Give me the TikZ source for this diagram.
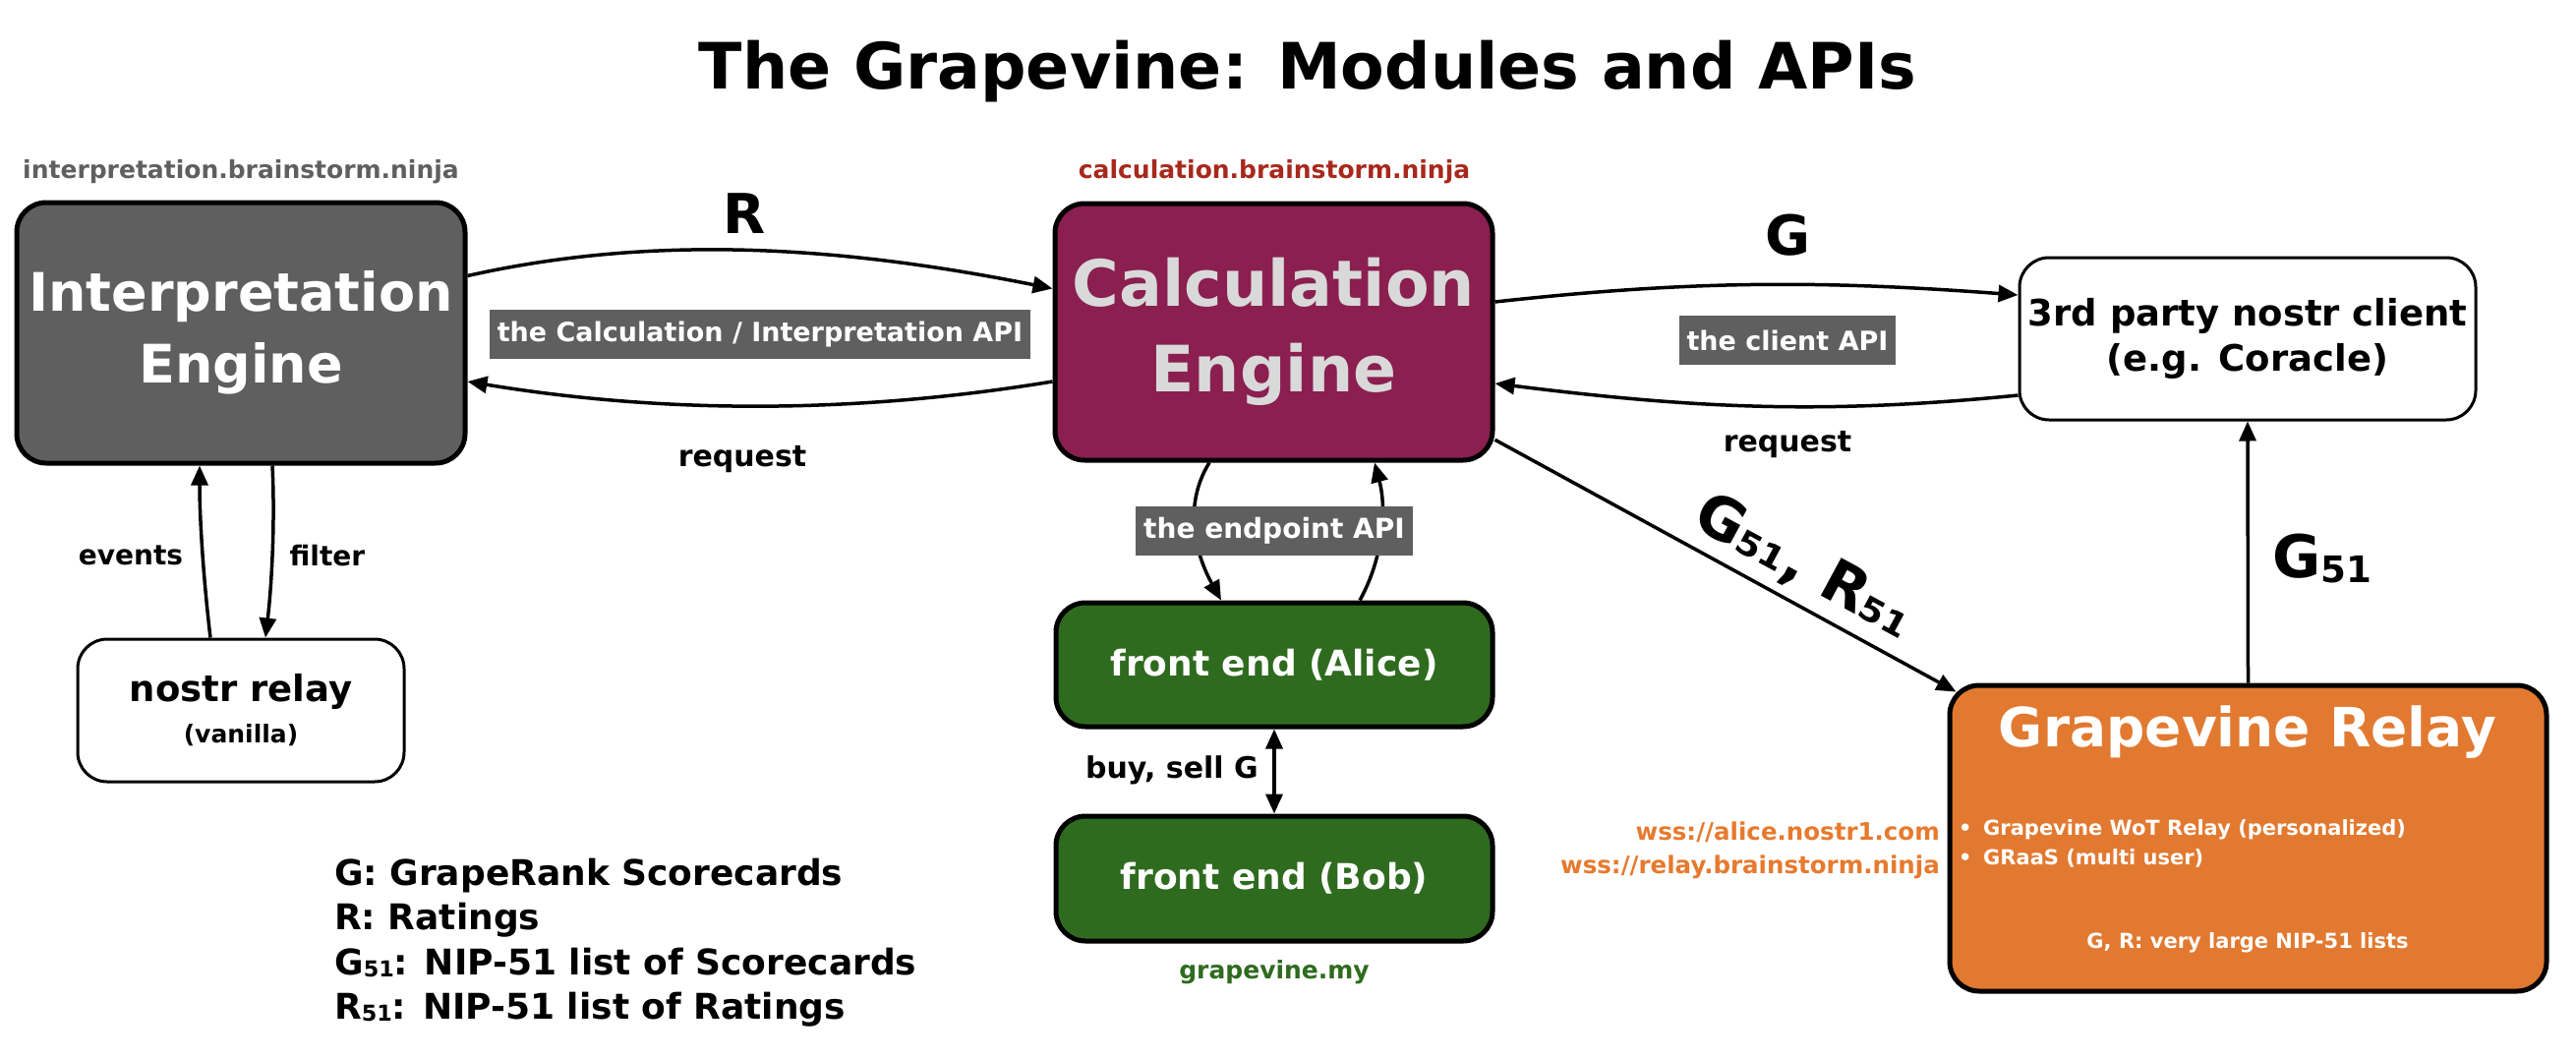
\documentclass[tikz,border=0pt]{standalone}
\usepackage{fontspec}
\setmainfont{DejaVu Sans}
\usetikzlibrary{arrows.meta,calc}
\definecolor{gry}{HTML}{5F5F5F}
\definecolor{plum}{HTML}{8A1F50}
\definecolor{lgry}{HTML}{D9D9D9}
\definecolor{grn}{HTML}{2F6B1F}
\definecolor{org}{HTML}{E27930}
\definecolor{wssorg}{HTML}{E67A2E}
\definecolor{redurl}{HTML}{A8281C}
\newcommand{\lowsub}[1]{\raisebox{-0.08em}{\scalebox{0.62}{#1}}}
\newcommand{\fsz}[2]{\fontsize{#1}{#2}\selectfont}
\tikzset{
  bigbox/.style={draw=black, line width=5pt, rounded corners=30pt, inner sep=0pt, align=center},
  wbox/.style={draw=black, fill=white, line width=3pt, rounded corners=30pt, inner sep=0pt, align=center},
  apibox/.style={fill=gry, text=white, inner xsep=8pt, inner ysep=0pt, minimum height=50pt, font=\bfseries\fsz{27}{32}},
  arr/.style={line width=3.5pt, -{Triangle[length=20pt,width=17pt]}},
  dblarr/.style={line width=3.5pt, {Triangle[length=20pt,width=17pt]}-{Triangle[length=20pt,width=17pt]}},
  lbl/.style={font=\bfseries\fsz{30}{36}},
  small/.style={font=\bfseries\fsz{28}{34}},
  url/.style={font=\bfseries\fsz{25}{30}},
  big/.style={font=\bfseries\fsz{56}{62}},
  huge/.style={font=\bfseries\fsz{60}{66}},
  leg/.style={anchor=base west, inner sep=0pt, font=\bfseries\fsz{36}{44}},
  inbox/.style={text=white, inner sep=0pt, font=\bfseries\fsz{21}{25}},
}
\begin{document}
\begin{tikzpicture}[x=1pt,y=-1pt]
\useasboundingbox (0,0) rectangle (2620,1076);

% title
\node[font=\bfseries\fsz{65}{78}] (title) at (1330,73) {The Grapevine: Modules and APIs};

% main boxes
\node[bigbox, fill=gry, text=white, minimum width=456pt, minimum height=265pt,
      font=\bfseries\fsz{54}{73}] (interp) at (245,338.5) {Interpretation\\Engine};
\node[bigbox, fill=plum, text=lgry, minimum width=445pt, minimum height=261pt,
      font=\bfseries\fsz{65}{87}] (calc) at (1295.5,337.5) {Calculation\\Engine};
\node[wbox, minimum width=464pt, minimum height=165pt,
      font=\bfseries\fsz{37}{46}] (third) at (2286,344.5) {3rd party nostr client\\(e.g. Coracle)};
\node[wbox, minimum width=332pt, minimum height=145pt, font=\bfseries\fsz{25}{42}] (nostr) at (245,722.5)
      {{\fsz{37}{42}nostr relay}\\(vanilla)};
\node[bigbox, fill=grn, text=white, minimum width=444pt, minimum height=126pt,
      font=\bfseries\fsz{36}{44}] (alice) at (1296,676) {front end (Alice)};
\node[bigbox, fill=grn, text=white, minimum width=444pt, minimum height=127pt,
      font=\bfseries\fsz{36}{44}] (bob) at (1296,893.5) {front end (Bob)};
\node[bigbox, fill=org, minimum width=607pt, minimum height=311pt] (gvr) at (2286.5,852.5) {};

% URLs
\node[url, text=gry] (iurl) at (245,175) {interpretation.brainstorm.ninja};
\node[url, text=redurl] (curl) at (1296,175) {calculation.brainstorm.ninja};
\node[url, text=grn] (gurl) at (1296,989) {grapevine.my};
\node[anchor=east, inner sep=0pt, text=wssorg, font=\bfseries\fsz{24.5}{30}] (w1) at (1973,846) {wss://alice.nostr1.com};
\node[anchor=east, inner sep=0pt, text=wssorg, font=\bfseries\fsz{24.5}{30}] (w2) at (1973,882) {wss://relay.brainstorm.ninja};

% grapevine relay content
\node[text=white, font=\bfseries\fsz{55}{60}] (gvrt) at (2286,745) {Grapevine Relay};
\node[inbox, anchor=west] (b1) at (1992,844) {•\hspace{0.55em}Grapevine WoT Relay (personalized)};
\node[inbox, anchor=west] (b2) at (1992,873) {•\hspace{0.55em}GRaaS (multi user)};
\node[inbox] (b3) at (2286,959) {G, R: very large NIP-51 lists};

% connectors
\draw[arr] ([yshift=58pt]interp.east) .. controls +(200,-45) and +(-200,-40) .. ([yshift=44pt]calc.west);
\draw[arr] ([yshift=-50.5pt]calc.west) .. controls +(-200,33) and +(200,33) .. ([yshift=-49.5pt]interp.east);
\draw[arr] ([yshift=30.5pt]calc.east) .. controls +(200,-22) and +(-200,-15) .. ([yshift=44.5pt]third.west);
\draw[arr] ([yshift=-57.5pt]third.west) .. controls +(-200,20) and +(200,25) .. ([yshift=-52.5pt]calc.east);
\draw[arr] (calc.-26.8) -- ([xshift=9pt,yshift=-9pt]gvr.north west);
\draw[arr] (gvr.north) -- (third.south);
\draw[arr] ([xshift=-31pt]nostr.north) .. controls +(-6,-50) and +(0,60) .. ([xshift=-42pt]interp.south);
\draw[arr] ([xshift=32pt]interp.south) .. controls +(3,60) and +(6,-50) .. ([xshift=25pt]nostr.north);
\draw[arr] ([xshift=-65.5pt]calc.south) .. controls +(-28,45) and +(-25,-45) .. ([xshift=-54pt]alice.north);
\draw[arr] ([xshift=87pt]alice.north) .. controls +(25,-45) and +(12,45) .. ([xshift=102.5pt]calc.south);
\draw[dblarr] (alice.south) -- (bob.north);

% API labels
\node[apibox] (calcapi) at (773,340) {the Calculation / Interpretation API};
\node[apibox] (clientapi) at (1818,346) {the client API};
\node[apibox, font=\bfseries\fsz{28}{32}] (endpointapi) at (1296,540) {the endpoint API};

% connector labels
\node[big] (Rl) at (757,217) {R};
\node[big] (Gl) at (1818,239) {G};
\node[lbl] (req1) at (755,467) {request};
\node[lbl] (req2) at (1818,452) {request};
\node[small] (ev) at (133,565) {events};
\node[small] (fi) at (333,565) {filter};
\node[lbl, anchor=east, inner sep=0pt] (bs) at (1280,783) {buy, sell G};
\node[huge, anchor=west, inner sep=0pt] (g51) at (2311,568) {G\lowsub{51}};
\node[huge, rotate=-28.4] (gr51) at (1835,577) {G₅₁, R₅₁};

% legend
\node[leg] (lg1) at (340,900) {G: GrapeRank Scorecards};
\node[leg] (lg2) at (340,945) {R: Ratings};
\node[leg] (lg3) at (340,991) {G\lowsub{51}: NIP-51 list of Scorecards};
\node[leg] (lg4) at (340,1036) {R\lowsub{51}: NIP-51 list of Ratings};
\end{tikzpicture}
\end{document}
